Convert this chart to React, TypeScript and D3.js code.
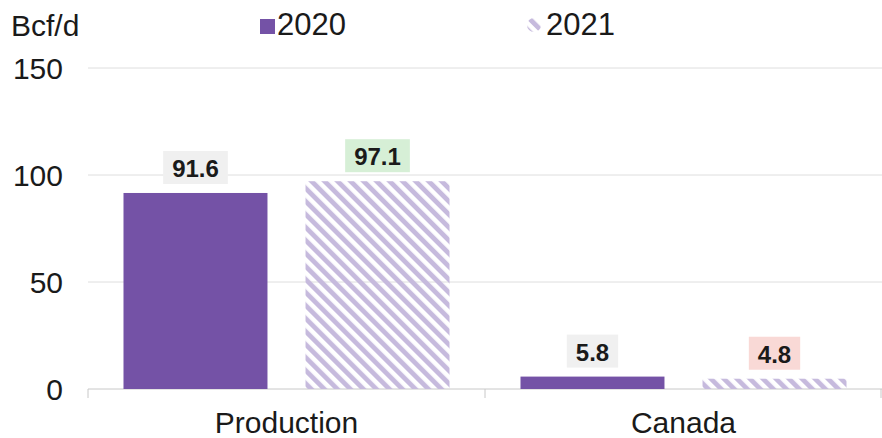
import React from "react";
import * as d3 from "d3";

const categories = ["Production", "Canada"];
const seriesNames = ["2020", "2021"];
const values2020 = [91.6, 5.8];
const values2021 = [97.1, 4.8];
const yTicks = [0, 50, 100, 150];
const unitLabel = "Bcf/d";

const W = 882;
const H = 438;
const FONT = "'Liberation Sans', Arial, Helvetica, sans-serif";
const COLOR_2020 = "#7452a6";
const COLOR_2021 = "#c6badd";
const BOX_2021 = ["#d6efd6", "#f9d9d6"];
const BOX_2020 = "#f0f0f0";
const TEXT = "#1a1a1a";

export default function App() {
  const y = d3.scaleLinear().domain([0, 150]).range([389, 68]);
  const x0 = d3.scaleBand<string>().domain(categories).range([88, 882]);
  const x1 = d3
    .scaleBand<string>()
    .domain(seriesNames)
    .range([0, x0.bandwidth()])
    .paddingInner(0.209)
    .paddingOuter(0.195);

  const data = categories.map((c, i) => ({
    cat: c,
    vals: [
      { s: "2020", v: values2020[i], box: BOX_2020 },
      { s: "2021", v: values2021[i], box: BOX_2021[i] },
    ],
  }));

  const fmt = d3.format(".1f");
  const labelFont = 24;
  const textW = (t: string) =>
    t.split("").reduce((a, ch) => a + (ch === "." ? 0.278 : 0.556), 0) * labelFont;

  return (
    <svg
      width={W}
      height={H}
      style={{ position: "absolute", left: 0, top: 0, background: "#fff" }}
      fontFamily={FONT}
    >
      <defs>
        <pattern
          id="hatch"
          patternUnits="userSpaceOnUse"
          width={9.2}
          height={9.2}
          patternTransform="rotate(-45)"
        >
          <rect x={0} y={0} width={4.8} height={9.2} fill={COLOR_2021} />
        </pattern>
      </defs>

      {/* gridlines */}
      {yTicks.map((t) => (
        <line
          key={"g" + t}
          x1={88}
          x2={882}
          y1={y(t)}
          y2={y(t)}
          stroke={t === 0 ? "#c8c8c8" : "#dedede"}
          strokeWidth={1}
        />
      ))}
      {/* category ticks */}
      {[...categories.map((c) => x0(c) as number), 881].map((xv, i) => (
        <line
          key={"t" + i}
          x1={xv}
          x2={xv}
          y1={y(0)}
          y2={y(0) + 9}
          stroke="#c8c8c8"
          strokeWidth={1}
        />
      ))}

      {/* y tick labels */}
      {yTicks.map((t) => (
        <text
          key={"l" + t}
          x={63}
          y={y(t) + 11}
          textAnchor="end"
          fontSize={30}
          fill={TEXT}
        >
          {t}
        </text>
      ))}

      <text x={11} y={36} fontSize={30} fill={TEXT}>
        {unitLabel}
      </text>

      {/* legend */}
      <rect x={260} y={19} width={15} height={15} fill={COLOR_2020} />
      <text x={277} y={35} fontSize={31} fill={TEXT}>
        {seriesNames[0]}
      </text>
      <circle cx={534} cy={25} r={7} fill="url(#hatch)" />
      <text x={546} y={35} fontSize={31} fill={TEXT}>
        {seriesNames[1]}
      </text>

      {/* bars */}
      {data.map((d) => (
        <g key={d.cat} transform={`translate(${x0(d.cat)},0)`}>
          {d.vals.map((b) => {
            const bx = x1(b.s) as number;
            const bw = x1.bandwidth();
            const top = y(b.v);
            const label = fmt(b.v);
            const tw = textW(label);
            const cx = bx + bw / 2;
            const base = top - 16;
            return (
              <g key={b.s}>
                <rect
                  x={bx}
                  y={top}
                  width={bw}
                  height={y(0) - top}
                  fill={b.s === "2020" ? COLOR_2020 : "url(#hatch)"}
                />
                <rect
                  x={cx - tw / 2 - 9}
                  y={base - 26}
                  width={tw + 18}
                  height={33}
                  fill={b.box}
                />
                <text
                  x={cx}
                  y={base}
                  textAnchor="middle"
                  fontSize={labelFont}
                  fontWeight="bold"
                  fill={TEXT}
                >
                  {label}
                </text>
              </g>
            );
          })}
        </g>
      ))}

      {/* category labels */}
      {categories.map((c) => (
        <text
          key={"c" + c}
          x={(x0(c) as number) + x0.bandwidth() / 2}
          y={433}
          textAnchor="middle"
          fontSize={30}
          fill={TEXT}
        >
          {c}
        </text>
      ))}
    </svg>
  );
}
